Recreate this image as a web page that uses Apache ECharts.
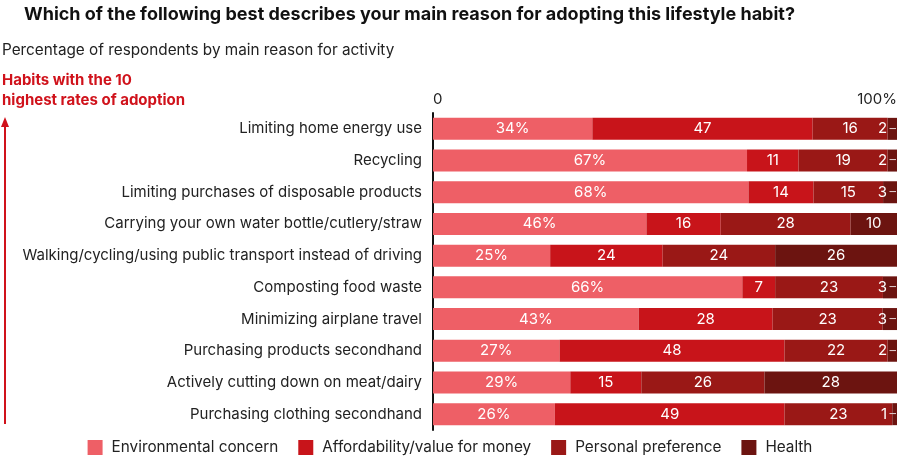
<!DOCTYPE html>
<html>
<head>
<meta charset="utf-8">
<script src="https://cdn.jsdelivr.net/npm/echarts@6/dist/echarts.min.js"></script>
<style>
  html, body { margin: 0; padding: 0; background: #fff; }
  #chart { width: 900px; height: 460px; }
</style>
</head>
<body>
<div id="chart"></div>
<script>
const FONT = 'Inter, "Noto Sans", sans-serif';

const habits = [
  'Limiting home energy use',
  'Recycling',
  'Limiting purchases of disposable products',
  'Carrying your own water bottle/cutlery/straw',
  'Walking/cycling/using public transport instead of driving',
  'Composting food waste',
  'Minimizing airplane travel',
  'Purchasing products secondhand',
  'Actively cutting down on meat/dairy',
  'Purchasing clothing secondhand'
];

const environmental = [34, 67, 68, 46, 25, 66, 43, 27, 29, 26];
const affordability = [47, 11, 14, 16, 24, 7, 28, 48, 15, 49];
const preference = [16, 19, 15, 28, 24, 23, 23, 22, 26, 23];
const health = [2, 2, 3, 10, 26, 3, 3, 2, 28, 1];

const seriesNames = ['Environmental concern', 'Affordability/value for money', 'Personal preference', 'Health'];
const colors = ['#EE5F66', '#C8141A', '#9A1816', '#6C1410'];
const tickLabels = { 0: '0', 100: '100%' };

// bars are drawn as a 100% stack, labels keep the published numbers
const rowTotals = habits.map((_, i) => environmental[i] + affordability[i] + preference[i] + health[i]);
const raw = [environmental, affordability, preference, health];

const series = raw.map((vals, s) => ({
  name: seriesNames[s],
  type: 'bar',
  stack: 'total',
  barWidth: 22,
  itemStyle: { color: colors[s] },
  emphasis: { disabled: true },
  data: vals.map((v, i) => {
    const item = { value: v / rowTotals[i] * 100, raw: v };
    if (s === 3 && v < 5) {
      item.label = {
        position: 'insideRight',
        distance: 1,
        formatter: '{n|' + v + '}{d|\u2009\u2013}',
        rich: {
          n: { color: '#fff', fontSize: 15, fontFamily: FONT },
          d: { color: '#d9c4c4', fontSize: 13, fontFamily: FONT }
        }
      };
    }
    return item;
  }),
  label: {
    show: true,
    position: 'inside',
    color: '#fff',
    fontSize: 15,
    fontFamily: FONT,
    formatter: p => s === 0 ? p.data.raw + '%' : String(p.data.raw)
  }
}));

const chart = echarts.init(document.getElementById('chart'), null, { renderer: 'canvas' });

chart.setOption({
  animation: false,
  textStyle: { fontFamily: FONT },
  title: [
    {
      text: 'Which of the following best describes your main reason for adopting this lifestyle habit?',
      left: 24, top: 6, padding: 0,
      textStyle: { fontSize: 18, fontWeight: 'bold', color: '#111', fontFamily: FONT }
    },
    {
      text: 'Percentage of respondents by main reason for activity',
      left: 2, top: 43, padding: 0,
      textStyle: { fontSize: 15.3, fontWeight: 'normal', color: '#222', fontFamily: FONT }
    },
    {
      text: 'Habits with the 10\nhighest rates of adoption',
      left: 2, top: 70, padding: 0,
      textStyle: { fontSize: 15, fontWeight: 'bold', color: '#D0121B', lineHeight: 20, fontFamily: FONT }
    }
  ],
  graphic: [
    {
      type: 'line',
      shape: { x1: 5, y1: 121, x2: 5, y2: 424 },
      style: { stroke: '#D0121B', lineWidth: 2 }
    },
    {
      type: 'polygon',
      shape: { points: [[5, 117], [1, 127], [9, 127]] },
      style: { fill: '#D0121B' }
    }
  ],
  legend: {
    bottom: 0,
    left: 'center',
    itemWidth: 15,
    itemHeight: 15,
    itemGap: 20,
    icon: 'rect',
    selectedMode: false,
    textStyle: { fontSize: 15.3, color: '#222', fontFamily: FONT, padding: [0, 0, 0, 4] },
    data: seriesNames
  },
  grid: { left: 433, right: 1, top: 113, bottom: 30, containLabel: false },
  xAxis: {
    type: 'value',
    position: 'top',
    min: 0,
    max: 100,
    interval: 100,
    axisLine: { show: false },
    axisTick: { show: false },
    splitLine: { show: false },
    axisLabel: {
      fontSize: 15,
      color: '#222',
      margin: 6,
      alignMinLabel: 'left',
      alignMaxLabel: 'right',
      formatter: v => tickLabels[v] ?? ''
    }
  },
  yAxis: {
    type: 'category',
    inverse: true,
    data: habits,
    axisLine: { show: true, lineStyle: { color: '#111', width: 2 } },
    axisTick: { show: false },
    axisLabel: { fontSize: 15, color: '#222', margin: 11 }
  },
  series
});
</script>
</body>
</html>
